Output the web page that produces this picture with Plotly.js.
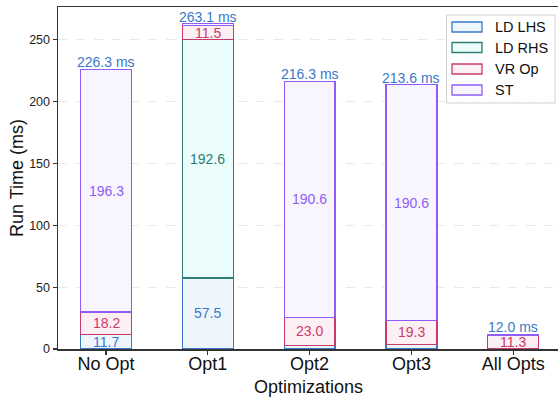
<!DOCTYPE html>
<html>
<head>
<meta charset="utf-8">
<script src="https://cdn.plot.ly/plotly-3.0.1.min.js"></script>
<style>html,body{margin:0;padding:0;background:#fff;} #chart{width:558px;height:400px;}</style>
</head>
<body>
<div id="chart"></div>
<script>
const categories = ["No Opt", "Opt1", "Opt2", "Opt3", "All Opts"];
const seriesNames = ["LD LHS", "LD RHS", "VR Op", "ST"];
const ldLhs = [11.7, 57.5, 2.7, 3.7, 0.0];
const ldRhs = [0.0, 192.6, 0.0, 0.0, 0.0];
const vrOp  = [18.2, 11.5, 23.0, 19.3, 11.3];
const st    = [196.3, 1.5, 190.6, 190.6, 0.7];
const totals = [226.3, 263.1, 216.3, 213.6, 12.0];
const yTicks = [0, 50, 100, 150, 200, 250];

const edgeColors = ["#3a78c8", "#2f7d73", "#c93a6c", "#8f5df5"];
const fillColors = ["#eef6fd", "#eafcfc", "#fdf0f5", "#f8f5fe"];
const textColors = ["#3a78c8", "#2f7d73", "#c93a6c", "#8f5df5"];
const series = [ldLhs, ldRhs, vrOp, st];
const FONT = "Liberation Sans, Arial, Helvetica, sans-serif";

const M = {l: 58, r: 0, t: 7, b: 51};
const W = 558, H = 400;
const pw = W - M.l - M.r, ph = H - M.t - M.b;
const px = x => (x - M.l) / pw;
const py = y => (H - M.b - y) / ph;

const traces = series.map((vals, i) => ({
  type: "bar",
  name: seriesNames[i],
  x: categories,
  y: vals,
  width: 0.5,
  marker: {color: fillColors[i], line: {color: edgeColors[i], width: 1.3}},
  hoverinfo: "none",
  showlegend: false
}));

const annotations = [];
categories.forEach((c, j) => {
  let base = 0;
  series.forEach((vals, i) => {
    const v = vals[j];
    if (v >= 5) {
      annotations.push({
        x: c, y: base + v / 2, xref: "x", yref: "y",
        text: v.toFixed(1), showarrow: false,
        font: {family: FONT, size: 14, color: textColors[i]},
        xanchor: "center", yanchor: "middle"
      });
    }
    base += v;
  });
  annotations.push({
    x: c, y: totals[j], xref: "x", yref: "y",
    text: totals[j].toFixed(1) + " ms", showarrow: false,
    font: {family: FONT, size: 14, color: "#3a78c8"},
    xanchor: "center", yanchor: "bottom", yshift: -3
  });
});

// custom legend (layout decoration)
const shapes = [{
  type: "rect", xref: "paper", yref: "paper",
  x0: px(446.5), x1: px(555), y0: py(103), y1: py(15),
  line: {color: "#d0d0d0", width: 1}, fillcolor: "rgba(255,255,255,0.9)", layer: "above"
}];
const legendY = [27, 47.5, 69, 90];
seriesNames.forEach((n, i) => {
  shapes.push({
    type: "rect", xref: "paper", yref: "paper",
    x0: px(452), x1: px(482), y0: py(legendY[i] + 5), y1: py(legendY[i] - 5),
    line: {color: edgeColors[i], width: 1.3}, fillcolor: fillColors[i], layer: "above"
  });
  annotations.push({
    x: px(493), y: py(legendY[i]), xref: "paper", yref: "paper",
    text: n, showarrow: false, xanchor: "left", yanchor: "middle",
    font: {family: FONT, size: 14.5, color: "#111"}
  });
});

// x-axis title placed as annotation to match position
annotations.push({
  x: 0.5, y: py(387), xref: "paper", yref: "paper",
  text: "Optimizations", showarrow: false, xanchor: "center", yanchor: "middle",
  font: {family: FONT, size: 18, color: "#111"}
});

const layout = {
  width: W, height: H,
  margin: {l: M.l, r: M.r, t: M.t, b: M.b, pad: 0},
  barmode: "stack",
  paper_bgcolor: "#fff", plot_bgcolor: "#fff",
  font: {family: FONT, color: "#222"},
  showlegend: false,
  xaxis: {
    type: "category",
    range: [-0.4715, 4.44],
    showline: true, linecolor: "#333", linewidth: 1.5, mirror: true,
    ticks: "outside", ticklen: 4, tickcolor: "#333", tickwidth: 1.2,
    ticklabelstandoff: -6,
    tickfont: {family: FONT, size: 18, color: "#111"},
    showgrid: false, zeroline: false
  },
  yaxis: {
    range: [0, 276.5],
    tickvals: yTicks,
    showline: true, linecolor: "#333", linewidth: 1.5, mirror: true,
    ticks: "outside", ticklen: 4, tickcolor: "#333", tickwidth: 1.2,
    tickfont: {family: FONT, size: 12.5, color: "#222"},
    showgrid: true, gridcolor: "#e3e3e3", griddash: "dash", gridwidth: 0.8,
    zeroline: false,
    title: {text: "Run Time (ms)", font: {family: FONT, size: 18, color: "#111"}, standoff: 1}
  },
  shapes: shapes,
  annotations: annotations
};

Plotly.newPlot("chart", traces, layout, {displayModeBar: false, staticPlot: true});
</script>
</body>
</html>
